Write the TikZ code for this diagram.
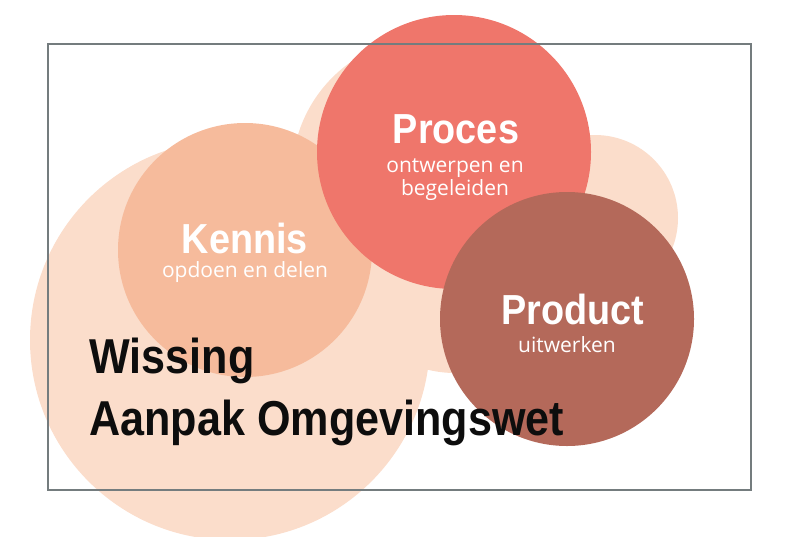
\documentclass[tikz,border=0pt]{standalone}
\usepackage{fontspec}
\setmainfont{Open Sans}
\newfontfamily\headfont[FakeStretch=0.9]{Liberation Sans}
\newfontfamily\titlefont[FakeStretch=0.88]{Liberation Sans}

\definecolor{blush}{HTML}{FBDDCB}
\definecolor{kenniskleur}{HTML}{F6BB9C}
\definecolor{proceskleur}{HTML}{EF766B}
\definecolor{productkleur}{HTML}{B4695A}
\definecolor{kaderkleur}{HTML}{747C7E}

\begin{document}
\begin{tikzpicture}[x=1pt,y=-1pt,
    blob/.style={circle,inner sep=0pt,draw=none,fill=#1},
    head/.style={text=white,font=\headfont\bfseries\fontsize{42}{42}\selectfont,anchor=base},
    sub/.style={text=white,font=\fontsize{21}{24}\selectfont,anchor=base},
    title/.style={text=black!95,font=\titlefont\bfseries\fontsize{49}{49}\selectfont,anchor=base west}]
  \clip (0,0) rectangle (800,536);
  % background blobs
  \node[blob=blush,minimum size=400pt] (wolk)   at (230,340) {};
  \node[blob=blush,minimum size=276pt] (wolkb)  at (430,175) {};
  \node[blob=blush,minimum size=226pt] (wolkc)  at (455,260) {};
  \node[blob=blush,minimum size=166pt] (wolkr)  at (595,218) {};
  % the three circles
  \node[blob=kenniskleur, minimum size=254pt] (kennis)  at (245,250) {};
  \node[blob=proceskleur, minimum size=274pt] (proces)  at (454,152) {};
  \node[blob=productkleur,minimum size=254pt] (product) at (567,319) {};
  % labels
  \node[head] (proces-t)  at (456,143) {Proces};
  \node[sub]  (proces-s1) at (455,172) {ontwerpen en};
  \node[sub]  (proces-s2) at (455,195) {begeleiden};
  \node[head] (kennis-t)  at (245,253) {Kennis};
  \node[sub]  (kennis-s)  at (245,277) {opdoen en delen};
  \node[head] (product-t) at (573,324) {Product};
  \node[sub]  (product-s) at (567,352) {uitwerken};
  \node[title] (titel1) at (86,373) {Wissing};
  \node[title] (titel2) at (86,435) {Aanpak Omgevingswet};
  % frame
  \draw[kaderkleur,line width=2pt] (48,44) rectangle (751,490);
\end{tikzpicture}
\end{document}
